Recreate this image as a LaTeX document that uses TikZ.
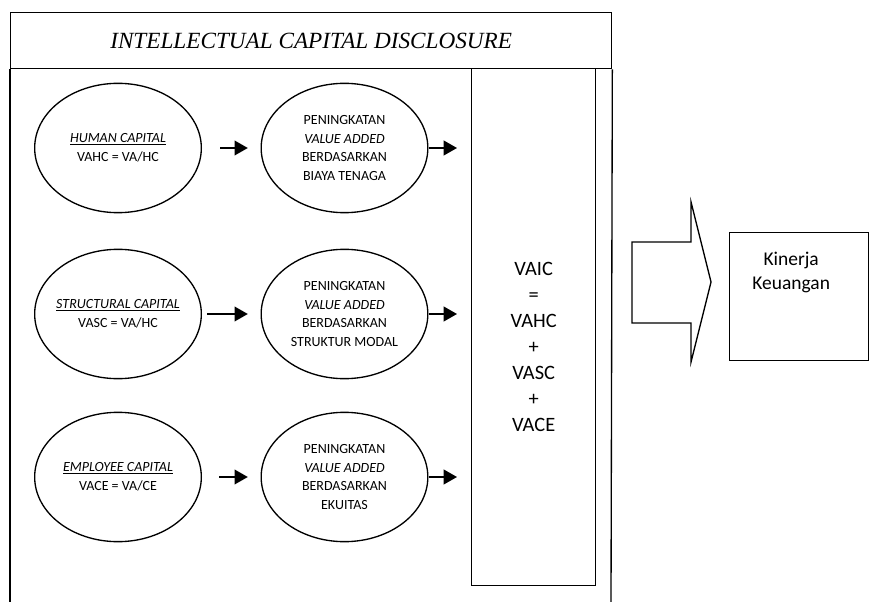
\documentclass[tikz,border=0pt]{standalone}
\usepackage{fontspec}
\setmainfont{Carlito}
\newfontfamily\titlefont{Liberation Serif}
\usetikzlibrary{arrows.meta,shapes.geometric,calc}
\begin{document}
\begin{tikzpicture}[x=0.75pt,y=-0.75pt,
  line width=1pt,
  ell/.style={draw,ellipse,inner sep=0pt,minimum width=125pt,minimum height=97pt},
  lab/.style={font=\fontsize{10.5}{14.2}\selectfont,align=center,inner sep=0pt},
  arr/.style={line width=1.5pt,-{Triangle[length=10pt,width=11pt]}},
  bigfont/.style={font=\fontsize{15.3}{19.5}\selectfont,align=center}
]
\useasboundingbox (0,0) rectangle (870,602);
% header
\node[draw,anchor=north west,minimum width=450.75pt,minimum height=42pt,inner sep=0pt,
      font=\titlefont\itshape\fontsize{17.4}{20}\selectfont] (hdr) at (10,12)
      {INTELLECTUAL CAPITAL DISCLOSURE};
\coordinate (bl) at (10,602);
\coordinate (br) at (611,602);
\draw (hdr.south west) -- (bl);
\draw (hdr.south east) -- (br);
% VAIC box
\node[draw,anchor=north west,minimum width=93pt,minimum height=387.75pt,inner sep=0pt,
      label={[bigfont,yshift=-14.5pt]center:VAIC\\=\\VAHC\\+\\VASC\\+\\VACE}] (vaic) at (471,68) {};
% ellipses
\node[ell,label={[lab]center:\underline{\textit{HUMAN CAPITAL}}\\VAHC = VA/HC}] (h1) at (118,148) {};
\node[ell,label={[lab]center:\underline{\textit{STRUCTURAL CAPITAL}}\\VASC = VA/HC}] (h2) at (118,314) {};
\node[ell,label={[lab]center:\underline{\textit{EMPLOYEE CAPITAL}}\\VACE = VA/CE}] (h3) at (118,477) {};
\node[ell,label={[lab]center:PENINGKATAN\\\textit{VALUE ADDED}\\BERDASARKAN\\BIAYA TENAGA}] (p1) at (344.5,148) {};
\node[ell,label={[lab]center:PENINGKATAN\\\textit{VALUE ADDED}\\BERDASARKAN\\STRUKTUR MODAL}] (p2) at (344.5,314) {};
\node[ell,label={[lab]center:PENINGKATAN\\\textit{VALUE ADDED}\\BERDASARKAN\\EKUITAS}] (p3) at (344.5,477) {};
% arrows
\draw[arr,shorten <=13.5pt,shorten >=9.5pt] (h1) -- (p1);
\draw[arr,shorten <=4pt,shorten >=9.5pt] (h2) -- (p2);
\draw[arr,shorten <=13pt,shorten >=9.5pt] (h3) -- (p3);
\draw[arr,shorten >=10.5pt] (p1.east) -- (p1.east -| vaic.west);
\draw[arr,shorten >=10.5pt] (p2.east) -- (p2.east -| vaic.west);
\draw[arr,shorten >=10.5pt] (p3.east) -- (p3.east -| vaic.west);
% block arrow
\draw (632,242) -- (691,242) -- (691,202) -- (711,282) -- (691,362) -- (691,323) -- (632,323) -- cycle;
% Kinerja box
\node[draw,anchor=north west,minimum width=104.25pt,minimum height=96pt,inner sep=0pt,
      label={[bigfont,font=\fontsize{14.6}{18.5}\selectfont,anchor=north,yshift=-11pt,xshift=-6pt]north:Kinerja\\Keuangan}] (kk) at (729,232) {};
\end{tikzpicture}
\end{document}
